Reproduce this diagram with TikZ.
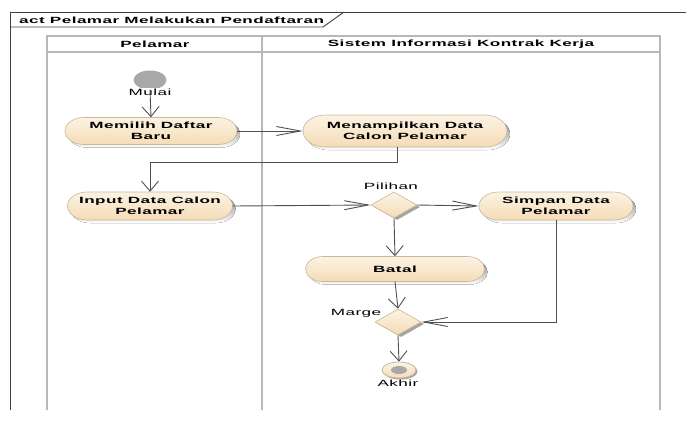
\documentclass[tikz,border=0pt]{standalone}
\usepackage{fontspec}
\newfontfamily\diafont[FakeStretch=1.9,LetterSpace=5]{Liberation Sans}
\usetikzlibrary{arrows.meta,shapes.geometric,shadows,calc}

\definecolor{framegray}{HTML}{404040}
\definecolor{lanegray}{HTML}{B8B8B8}
\definecolor{linegray}{HTML}{505050}
\definecolor{pilltop}{HTML}{FCF3E4}
\definecolor{pillbot}{HTML}{F4DCB6}
\definecolor{pilledge}{HTML}{C9B798}
\definecolor{shade}{HTML}{A4A4A4}
\definecolor{startgray}{HTML}{A8A8A8}

% outline of an action: a bar with half-elliptic ends
\newcommand\pillpath[5]{% cx, cy, width, height, offset
  (#1-#3/2+0.7*#4+#5, #2-#4/2+#5) -- (#1+#3/2-0.7*#4+#5, #2-#4/2+#5)
  arc[start angle=-90,end angle=90,x radius=0.7*#4,y radius=#4/2]
  -- (#1-#3/2+0.7*#4+#5, #2+#4/2+#5)
  arc[start angle=90,end angle=270,x radius=0.7*#4,y radius=#4/2] -- cycle}

% action node: name, cx, cy, width, height, text
\newcommand\pill[6]{%
  \fill[shade] \pillpath{#2}{#3}{#4}{#5}{3};
  \shade[top color=pilltop,bottom color=pillbot,draw=pilledge,line width=0.6pt]
    \pillpath{#2}{#3}{#4}{#5}{0};
  \node[actiontext,minimum width=#4pt,minimum height=#5pt] (#1) at (#2,#3) {#6};}

\tikzset{
  actiontext/.style={inner sep=0pt,align=center,font=\diafont\bfseries\fontsize{9}{10.5}\selectfont},
  lbl/.style={inner sep=0.5pt,font=\diafont\fontsize{9}{10}\selectfont},
  hdr/.style={inner sep=0pt,font=\diafont\bfseries\fontsize{9}{10}\selectfont},
  decision/.style={diamond,minimum width=46pt,minimum height=26pt,inner sep=0pt,
    draw=pilledge,line width=0.6pt,top color=pilltop,bottom color=pillbot,
    drop shadow={shadow xshift=3pt,shadow yshift=-2pt,fill=shade,opacity=1}},
  flowh/.style={draw=linegray,line width=0.9pt,-{Straight Barb[length=24pt,width=9pt]}},
  flowv/.style={draw=linegray,line width=0.9pt,-{Straight Barb[length=10pt,width=17pt]}},
  lane/.style={draw=lanegray,line width=2.6pt},
}

\begin{document}
\begin{tikzpicture}[x=1pt,y=-1pt]
\useasboundingbox (0,0) rectangle (686,421);

% diagram frame with its name tab
\draw[framegray,line width=0.9pt] (686,12) -- (10,12) -- (10,410);
\draw[framegray,line width=0.9pt] (10,27) -- (323,27) -- (344,12);
\node[hdr,anchor=west] (title) at (19,20) {act Pelamar Melakukan Pendaftaran};

% swimlanes
\draw[lane] (47,410) -- (47,36) -- (660,36) -- (660,410);
\draw[lane] (262,36) -- (262,410);
\draw[lanegray,line width=1.2pt] (47,52) -- (660,52);
\node[hdr] (lane1) at (155,44) {Pelamar};
\node[hdr] (lane2) at (461,44) {Sistem Informasi Kontrak Kerja};

% start node
\node[ellipse,fill=startgray,minimum width=33pt,minimum height=19pt,inner sep=0pt] (start) at (150,80) {};
\node[lbl,fill=white] (startlbl) at (150,92) {Mulai};

% actions
\pill{memilih}{151}{131}{172}{27}{Memilih Daftar\\Baru}
\pill{tampil}{405}{131}{204}{32}{Menampilkan Data\\Calon Pelamar}
\pill{input}{150}{206}{165}{28}{Input Data Calon\\Pelamar}
\pill{simpan}{556}{206}{154}{28}{Simpan Data\\Pelamar}
\pill{batal}{395}{269}{179}{25}{Batal}

% decision and merge
\node[decision] (pilihan) at (394,205) {};
\node[lbl] (pilihanlbl) at (391,186) {Pilihan};
\node[decision] (marge) at (398,322) {};
\node[lbl] (margelbl) at (356,313) {Marge};

% final node
\node[ellipse,draw=pilledge,line width=0.8pt,top color=pilltop,bottom color=pillbot,
  minimum width=34pt,minimum height=16pt,inner sep=0pt,
  drop shadow={shadow xshift=1.5pt,shadow yshift=-1.5pt,fill=shade,opacity=1}] (akhir) at (399,370) {};
\fill[startgray] (akhir.center) ellipse[x radius=8,y radius=4];
\node[lbl] (akhirlbl) at (398,383) {Akhir};

% control flow
\draw[flowv] (start.south) -- (memilih.north);
\draw[flowh] (memilih.east) -- (tampil.west);
\draw[flowv] ([xshift=-8pt]tampil.south) |- ([yshift=29pt]input.north) -- (input.north);
\draw[flowh] (input.east) -- (pilihan.west);
\draw[flowh] (pilihan.east) -- (simpan.west);
\draw[flowv] (pilihan.south) -- (batal.north);
\draw[flowv] (batal.south) -- (marge.north);
\draw[flowh] (simpan.south) |- (marge.east);
\draw[flowv] (marge.south) -- (akhir.north);
\end{tikzpicture}
\end{document}
